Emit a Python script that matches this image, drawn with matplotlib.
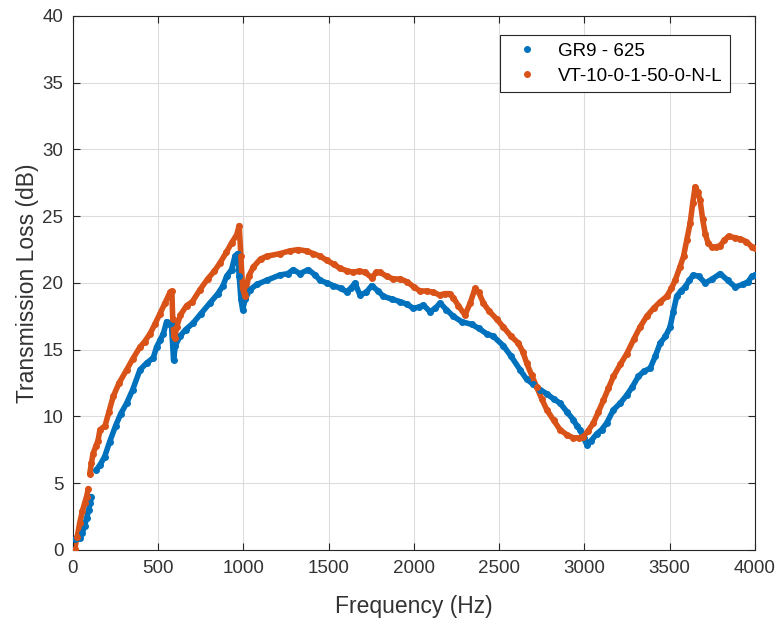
#!/usr/bin/env python3
"""Transmission loss comparison, two measured samples (MATLAB-style dot plot)."""

import numpy as np
import matplotlib

matplotlib.use("Agg")
import matplotlib.pyplot as plt

BLUE = "#0072BD"
ORANGE = "#D95319"
INK = "#262626"

# GR9 - 625 (nan marks a break in the measured points)
gr9_freq = [
    10, 25, 40, 55, 68, 80, 92, 100, 108, 120,
    137, 160, 186, 215, 250, 280, 315, 350, 393, 432,
    471, 490, 510, 530, 549, 565, 577, 584, 590, 600,
    627, 660, 705, 750, 803, 850, 880, 901, 930, 950,
    965, 975, 985, 995, 1010, 1038, 1080, 1136, 1214, 1260,
    1292, 1331, 1380, 1420, 1449, 1490, 1527, 1570, 1605, 1630,
    1654, 1683, 1720, 1752, 1790, 1820, 1870, 1918, 1960, 1997,
    2030, 2055, 2094, 2125, 2153, 2190, 2231, 2280, 2338, 2380,
    2426, 2466, 2524, 2570, 2622, 2660, 2700, 2740, 2779, 2820,
    2857, 2900, 2935, 2955, 2974, 2995, 3013, 3040, 3072, 3100,
    3130, 3170, 3210, 3248, 3280, 3316, 3350, 3385, 3415, 3444,
    3475, 3502, 3520, 3541, 3565, 3590, 3615, 3639, 3670, 3708,
    3750, 3796, 3840, 3884, 3930, 3960, 3982, 4000,
]
gr9_tl = [
    0.85, 0.9, 0.9, 1.3, 1.8, 2.4, 3.0, 3.5, 4.0, np.nan,
    6.0, 6.4, 7.0, 8.1, 9.3, 10.2, 11.0, 12.0, 13.5, 14.0,
    14.4, 15.2, 15.7, 16.2, 17.1, 16.9, 17.0, 15.5, 14.2, 15.3,
    16.0, 16.5, 17.0, 17.7, 18.5, 19.2, 19.8, 20.5, 21.0, 22.0,
    22.2, 20.5, 18.8, 18.0, 18.8, 19.5, 19.9, 20.2, 20.6, 20.7,
    21.0, 20.7, 21.0, 20.6, 20.2, 20.0, 19.8, 19.6, 19.35, 19.6,
    20.0, 19.1, 19.3, 19.8, 19.4, 19.0, 18.8, 18.6, 18.4, 18.1,
    18.2, 18.35, 17.85, 18.1, 18.5, 18.0, 17.5, 17.1, 16.9, 16.6,
    16.2, 16.0, 15.3, 14.5, 13.5, 12.8, 12.4, 12.0, 11.7, 11.3,
    11.0, 10.3, 9.75, 9.3, 9.0, 8.4, 7.9, 8.2, 8.7, 9.0,
    9.5, 10.5, 11.0, 11.6, 12.2, 13.0, 13.4, 13.6, 14.5, 15.5,
    16.0, 16.7, 17.8, 19.0, 19.4, 19.7, 20.2, 20.6, 20.5, 20.0,
    20.3, 20.7, 20.2, 19.7, 19.9, 20.1, 20.5, 20.6,
]

# VT-10-0-1-50-0-N-L
vt_freq = [
    10, 25, 39, 55, 68, 80, 90, 94,
    98, 108, 117, 135, 147, 158, 188, 210, 236, 270,
    315, 350, 393, 420, 452, 480, 510, 540, 569, 580,
    585, 592, 598, 608, 630, 666, 700, 745, 790, 830,
    862, 900, 930, 960, 975, 985, 995, 1009, 1030, 1058,
    1100, 1136, 1214, 1270, 1321, 1370, 1410, 1450, 1488, 1530,
    1566, 1610, 1644, 1680, 1713, 1752, 1780, 1801, 1840, 1879,
    1920, 1958, 2000, 2035, 2075, 2114, 2150, 2180, 2211, 2231,
    2260, 2299, 2330, 2358, 2380, 2407, 2440, 2485, 2524, 2570,
    2612, 2640, 2661, 2690, 2720, 2750, 2779, 2820, 2857, 2900,
    2935, 2970, 2993, 3020, 3052, 3080, 3111, 3140, 3170, 3210,
    3248, 3290, 3326, 3365, 3405, 3445, 3483, 3510, 3532, 3560,
    3581, 3600, 3620, 3635, 3649, 3665, 3678, 3693, 3708, 3725,
    3747, 3770, 3796, 3820, 3845, 3880, 3913, 3950, 3982, 4000,
]
vt_tl = [
    0.1, 1.0, 2.0, 2.9, 3.5, 4.0, 4.6, np.nan,
    5.7, 6.5, 7.2, 7.8, 8.2, 9.0, 9.3, 10.3, 11.5, 12.5,
    13.5, 14.3, 15.2, 15.6, 16.2, 16.9, 17.7, 18.5, 19.3, 19.4,
    17.3, 16.0, 15.9, 16.7, 17.6, 18.3, 18.6, 19.5, 20.3, 20.9,
    21.5, 22.3, 23.0, 23.6, 24.3, 22.0, 19.6, 19.0, 20.5, 21.2,
    21.8, 22.0, 22.2, 22.4, 22.5, 22.4, 22.2, 22.0, 21.7, 21.4,
    21.1, 20.9, 20.8, 20.9, 20.8, 20.4, 20.8, 20.8, 20.5, 20.3,
    20.3, 20.1, 19.7, 19.4, 19.4, 19.3, 19.1, 19.2, 19.2, 18.9,
    18.3, 17.6, 18.5, 19.6, 19.3, 18.5, 17.9, 17.3, 16.7, 16.0,
    15.5, 14.8, 14.0, 13.1, 12.2, 11.3, 10.5, 9.7, 9.0, 8.6,
    8.4, 8.4, 8.5, 8.9, 9.5, 10.3, 11.2, 12.1, 13.0, 13.9,
    14.7, 15.8, 16.7, 17.5, 18.1, 18.6, 19.0, 19.6, 20.2, 21.2,
    22.0, 23.2, 24.5, 26.0, 27.2, 26.8, 26.2, 24.8, 23.7, 23.0,
    22.7, 22.7, 22.8, 23.2, 23.5, 23.4, 23.3, 23.1, 22.7, 22.6,
]

x_ticks = [0, 500, 1000, 1500, 2000, 2500, 3000, 3500, 4000]
y_ticks = [0, 5, 10, 15, 20, 25, 30, 35, 40]

plt.rcParams["font.family"] = ["Liberation Sans", "DejaVu Sans"]

fig = plt.figure(figsize=(7.78, 6.22), dpi=100)
ax = fig.add_axes([0.0938, 0.1158, 0.8766, 0.8585])

for freq, tl, color, label in (
    (gr9_freq, gr9_tl, BLUE, "GR9 - 625"),
    (vt_freq, vt_tl, ORANGE, "VT-10-0-1-50-0-N-L"),
):
    # thick line under the dots so the dense sampling reads as a band
    ax.plot(freq, tl, "-", color=color, linewidth=4.0, solid_capstyle="round", zorder=2)
    ax.plot(freq, tl, ".", color=color, markersize=8, label=label, zorder=3)

ax.set_xlim(0, 4000)
ax.set_ylim(0, 40)
ax.set_xticks(x_ticks)
ax.set_yticks(y_ticks)
ax.grid(True, color="#DCDCDC", linewidth=0.8)
ax.set_axisbelow(True)
ax.tick_params(direction="in", top=True, right=True, length=5, width=0.8,
               colors=INK, labelsize=13.5, labelcolor="#333333", pad=7)
for spine in ax.spines.values():
    spine.set_color(INK)
    spine.set_linewidth(0.8)

ax.set_xlabel("Frequency (Hz)", fontsize=16.5, color="#333333", labelpad=13)
ax.set_ylabel("Transmission Loss (dB)", fontsize=16.5, color="#333333", labelpad=2)

leg = ax.legend(loc="upper right", bbox_to_anchor=(0.963, 0.964), fontsize=13.5,
                fancybox=False, framealpha=1, edgecolor=INK, markerscale=1.0,
                handlelength=2.0, handletextpad=0.65, borderpad=0.4,
                labelspacing=0.42, borderaxespad=0)
leg.get_frame().set_linewidth(0.8)

fig.savefig("out.png", dpi=100, facecolor="white")
